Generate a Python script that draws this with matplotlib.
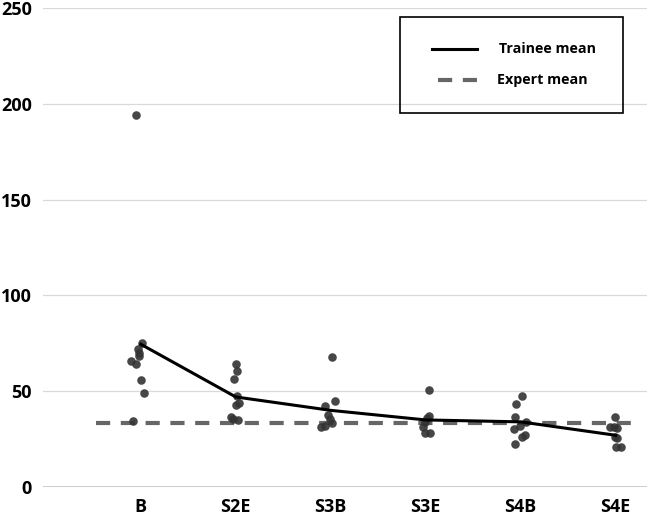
import matplotlib
matplotlib.use("Agg")
import matplotlib.pyplot as plt
from matplotlib.lines import Line2D
from matplotlib.patches import Rectangle

# ---------------------------------------------------------------------------
# Data
# ---------------------------------------------------------------------------
CATEGORIES = ["B", "S2E", "S3B", "S3E", "S4B", "S4E"]

B_VALS = [194, 75, 72, 70, 68.4, 65.8, 64, 55.8, 49.2, 34.3]
B_JIT = [-0.05, 0.01, -0.03, -0.02, -0.02, -0.10, -0.05, 0.0, 0.03, -0.08]

S2E_VALS = [64.2, 60.5, 56.4, 47.5, 44, 42.8, 36.7, 35.3, 35]
S2E_JIT = [0.0, 0.01, -0.02, 0.01, 0.03, 0.0, -0.05, -0.03, 0.02]

S3B_VALS = [67.8, 44.9, 42.4, 37.6, 35.3, 33.2, 31.8, 31.5]
S3B_JIT = [0.01, 0.04, -0.06, -0.03, -0.01, 0.01, -0.06, -0.10]

S3E_VALS = [50.6, 37, 35.9, 34, 31.5, 28.3, 28.3]
S3E_JIT = [0.03, 0.03, 0.01, -0.01, -0.03, -0.01, 0.05]

S4B_VALS = [47.5, 43.3, 36.7, 34.1, 31.8, 30.3, 27.1, 26.3, 22.3]
S4B_JIT = [0.01, -0.05, -0.06, 0.06, -0.01, -0.07, 0.05, 0.01, -0.06]

S4E_VALS = [36.7, 31.5, 31.5, 31, 26.3, 25.4, 21, 21]
S4E_JIT = [-0.01, -0.06, -0.02, 0.01, -0.01, 0.01, 0.0, 0.06]

TRAINEE_MEAN = [74.5, 47, 40, 35, 34, 27]
EXPERT_MEAN = 33.5
EXPERT_X = [0.53, 6.25]

Y_TICKS = [0, 50, 100, 150, 200, 250]

DASH = (3.4, 2.55)   # in units of line width

# ---------------------------------------------------------------------------
# Plot
# ---------------------------------------------------------------------------
plt.rcParams["font.family"] = ["Open Sans", "DejaVu Sans"]

fig = plt.figure(figsize=(6.47, 5.16), dpi=100)
ax = fig.add_axes([43 / 647, 29 / 516, 604 / 647, 479 / 516])

xpos = list(range(1, len(CATEGORIES) + 1))

for ytk in Y_TICKS[1:]:
    ax.axhline(ytk, color="#d9d9d9", linewidth=0.9, zorder=0)
ax.axhline(0, color="black", linewidth=1.0, zorder=1)

groups = [(B_VALS, B_JIT), (S2E_VALS, S2E_JIT), (S3B_VALS, S3B_JIT),
          (S3E_VALS, S3E_JIT), (S4B_VALS, S4B_JIT), (S4E_VALS, S4E_JIT)]
for x, (vals, jit) in zip(xpos, groups):
    ax.scatter([x + j for j in jit], vals, s=38, color="#333333",
               alpha=0.9, linewidths=0, zorder=3)

ax.plot(EXPERT_X, [EXPERT_MEAN, EXPERT_MEAN], color="#666666",
        linewidth=3.0, dashes=DASH, zorder=2)
ax.plot(xpos, TRAINEE_MEAN, color="black", linewidth=2.2, zorder=4)

ax.set_xlim(-0.03, 6.33)
ax.set_ylim(0, 250)
ax.set_xticks(xpos)
ax.set_xticklabels(CATEGORIES, fontsize=13, fontweight="bold")
ax.set_yticks(Y_TICKS)
ax.set_yticklabels([str(v) for v in Y_TICKS], fontsize=13, fontweight="bold")
ax.tick_params(length=0, pad=8)
for sp in ax.spines.values():
    sp.set_visible(False)

# Legend drawn by hand (box with two entries)
W, H = 647, 516
fig.add_artist(Rectangle((400 / W, 1 - 113 / H), 223 / W, 96 / H,
                         transform=fig.transFigure, fill=False,
                         edgecolor="black", linewidth=1.2))
fig.add_artist(Line2D([432 / W, 477 / W], [1 - 49 / H, 1 - 49 / H],
                      transform=fig.transFigure, color="black", linewidth=2.2))
fig.add_artist(Line2D([438 / W, 477 / W], [1 - 80 / H, 1 - 80 / H],
                      transform=fig.transFigure, color="#666666",
                      linewidth=3.0, dashes=DASH))
fig.text(499 / W, 1 - 49 / H, "Trainee mean", fontsize=10.3,
         fontweight="bold", va="center", ha="left")
fig.text(497 / W, 1 - 80 / H, "Expert mean", fontsize=10.3,
         fontweight="bold", va="center", ha="left")

fig.savefig("out.png", dpi=100)
